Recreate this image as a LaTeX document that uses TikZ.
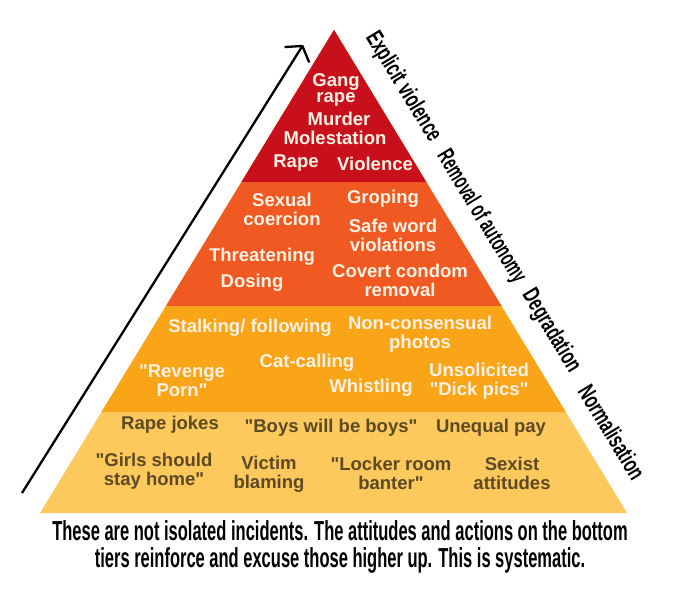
\documentclass[tikz,border=0pt]{standalone}
\usepackage{fontspec}
\setmainfont{Liberation Sans}[Ligatures=TeXOff]
\newfontfamily\sidefont{Liberation Sans}[FakeStretch=0.66]
\newfontfamily\sidenarrowfont{Liberation Sans}[FakeStretch=0.6]
\newfontfamily\notefont{Liberation Sans}[FakeStretch=0.6]
\usetikzlibrary{arrows.meta,calc}
\definecolor{tierred}{RGB}{200,16,28}
\definecolor{tierorange}{RGB}{240,90,34}
\definecolor{tieramber}{RGB}{250,164,24}
\definecolor{tiersand}{RGB}{253,200,92}
\definecolor{cream}{RGB}{255,242,228}
\definecolor{umber}{RGB}{92,74,36}

\begin{document}
\begin{tikzpicture}[x=1pt, y=-1pt,
    item/.style={font=\bfseries\fontsize{18.5}{19}\selectfont,
                 text=cream, align=center, inner sep=0pt},
    darkitem/.style={item, text=umber},
    side/.style={font=\sidefont\bfseries\fontsize{24}{24}\selectfont,
                 rotate=-58.7, inner sep=0pt},
    bottomnote/.style={font=\notefont\bfseries\fontsize{27.5}{27}\selectfont,
                 align=center, inner sep=0pt},
    rise/.style={-{Straight Barb[length=10pt, width=28pt, round]}, line width=2.3pt}
  ]
  \useasboundingbox (0,0) rectangle (684,602);

  % pyramid, drawn as nested triangles from the base up
  \coordinate (apex) at (334,30);
  \coordinate (bl) at (40,513);
  \coordinate (br) at (627,513);
  \fill[tiersand]   (apex) -- (bl) -- (br) -- cycle;
  \fill[tieramber]  (apex) -- ($(apex)!0.7909!(bl)$) -- ($(apex)!0.7909!(br)$) -- cycle;
  \fill[tierorange] (apex) -- ($(apex)!0.5714!(bl)$) -- ($(apex)!0.5714!(br)$) -- cycle;
  \fill[tierred]    (apex) -- ($(apex)!0.3147!(bl)$) -- ($(apex)!0.3147!(br)$) -- cycle;

  % explicit violence
  \node[item] (gang)   at (336,90)  {Gang\\[-3pt]rape};
  \node[item] (murder) at (339,119) {Murder};
  \node[item] (molest) at (335,138) {Molestation};
  \node[item] (rape)   at (296,163) {Rape};
  \node[item] (viol)   at (375,164) {Violence};

  % removal of autonomy
  \node[item] (coerce)  at (282,209) {Sexual\\coercion};
  \node[item] (grope)   at (383,199) {Groping};
  \node[item] (safe)    at (393,235) {Safe word\\violations};
  \node[item] (threat)  at (262,257) {Threatening};
  \node[item] (dose)    at (252,283) {Dosing};
  \node[item] (condom)  at (400,280) {Covert condom\\removal};

  % degradation
  \node[item] (stalk)   at (250,328) {Stalking/ following};
  \node[item] (photos)  at (420,334) {Non-consensual\\photos};
  \node[item] (catcall) at (307,363) {Cat-calling};
  \node[item] (revenge) at (182,381) {"Revenge\\Porn"};
  \node[item] (whistle) at (371,388) {Whistling};
  \node[item] (unsol)   at (479,381) {Unsolicited\\"Dick pics"};

  % normalisation
  \node[darkitem] (jokes)   at (170,425) {Rape jokes};
  \node[darkitem] (boys)    at (331,428) {"Boys will be boys"};
  \node[darkitem] (pay)     at (491,428) {Unequal pay};
  \node[darkitem] (girls)   at (154,471) {"Girls should\\stay home"};
  \node[darkitem] (blame)   at (269,474) {Victim\\blaming};
  \node[darkitem] (locker)  at (391,473) {"Locker room\\banter"};
  \node[darkitem] (sexist)  at (512,473) {Sexist\\attitudes};

  % tier names along the right side
  \node[side] (exv) at (403,87)  {Explicit violence};
  \node[side, font=\sidenarrowfont\bfseries\fontsize{24}{24}\selectfont]
    (rmv) at (481,217) {Removal of autonomy};
  \node[side] (deg) at (551,331) {Degradation};
  \node[side] (nrm) at (612,432) {Normalisation};

  % escalation arrow on the left
  \coordinate (risefrom) at (22,493);
  \coordinate (riseto) at (303,45);
  \draw[rise] (risefrom) -- (riseto);

  \node[bottomnote] (note) at (340,547)
    {These are not isolated incidents. The attitudes and actions on the bottom\\
     tiers reinforce and excuse those higher up. This is systematic.};
\end{tikzpicture}
\end{document}
